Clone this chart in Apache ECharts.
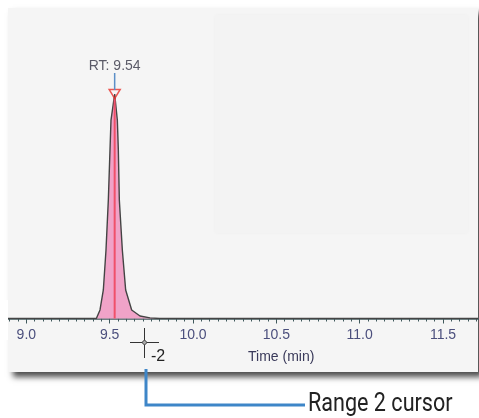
<!DOCTYPE html>
<html>
<head>
<meta charset="utf-8">
<script src="https://cdn.jsdelivr.net/npm/echarts@6/dist/echarts.min.js"></script>
<style>
html, body { margin: 0; padding: 0; background: #fff; }
#chart { width: 479px; height: 418px; }
</style>
</head>
<body>
<div id="chart"></div>
<script>
// chromatogram trace (time in min, relative intensity)
var peakTime = [8.89, 9.42, 9.442, 9.462, 9.478, 9.492, 9.502, 9.508, 9.53, 9.546, 9.552, 9.558, 9.576, 9.596, 9.632, 9.682, 9.742, 9.80, 11.71];
var peakIntensity = [0, 0, 3.8, 12.7, 30.5, 52.8, 75.1, 88.4, 100, 88.4, 75.1, 52.8, 30.5, 12.7, 3.8, 1.1, 0.3, 0, 0];
var rtTime = 9.53;
var rtIntensity = 100;
var rtLabel = 'RT: 9.54';
var axisMin = 8.5, axisMax = 12.0, axisStep = 0.5;
var viewMin = 8.89, viewMax = 11.71;

var chart = echarts.init(document.getElementById('chart'));

// panel spans x 8..478, visible time range mapped onto it
var pxPerMin = 470 / (viewMax - viewMin);
var gridLeft = 8 - (viewMin - axisMin) * pxPerMin;
var gridRight = 479 - (478 + (axisMax - viewMax) * pxPerMin);

var trace = peakTime.map(function (t, i) { return [t, peakIntensity[i]]; });

var option = {
    animation: false,
    backgroundColor: '#ffffff',
    grid: { left: gridLeft, right: gridRight, top: 8, bottom: 99.5, containLabel: false, outerBoundsMode: 'none' },
    xAxis: {
        type: 'value',
        min: axisMin,
        max: axisMax,
        interval: axisStep,
        splitLine: { show: false },
        axisLine: { lineStyle: { color: '#40595c', width: 1.5 } },
        axisTick: { length: 5, lineStyle: { color: '#40595c' } },
        minorTick: { show: true, splitNumber: 10, length: 3, lineStyle: { color: '#40595c' } },
        axisLabel: {
            margin: 10,
            color: '#4b4f7d',
            fontFamily: 'Liberation Sans, Arial',
            fontSize: 14,
            formatter: function (v) { return v.toFixed(1); }
        }
    },
    yAxis: { type: 'value', min: 0, max: 138.3, show: false },
    series: [
        {
            type: 'line',
            data: trace,
            symbol: 'none',
            lineStyle: { color: '#444', width: 1.4 },
            areaStyle: { color: '#f0a3c8', opacity: 1 },
            z: 3
        },
        {
            type: 'line',
            data: [[rtTime, 0], [rtTime, rtIntensity - 2]],
            symbol: 'none',
            lineStyle: { color: '#f0506a', width: 2 },
            z: 4
        },
        {
            type: 'scatter',
            data: [[rtTime, rtIntensity]],
            symbol: 'triangle',
            symbolRotate: 180,
            symbolSize: [11, 9],
            itemStyle: { color: 'rgba(0,0,0,0)', borderColor: '#e8302a', borderWidth: 1.5 },
            label: {
                show: true,
                position: 'top',
                distance: 16,
                formatter: rtLabel,
                color: '#333344',
                fontFamily: 'Liberation Sans, Arial',
                fontSize: 14
            },
            z: 5
        }
    ],
    graphic: [
        {
            type: 'rect', z: -10,
            shape: { x: 8, y: 8, width: 470, height: 364 },
            style: { fill: '#f5f5f5', shadowBlur: 6, shadowOffsetX: 5, shadowOffsetY: 5, shadowColor: 'rgba(0,0,0,0.7)' }
        },
        {
            type: 'rect', z: -9,
            shape: { x: 215, y: 15, width: 253, height: 218 },
            style: { fill: '#f3f3f3', shadowBlur: 3, shadowColor: 'rgba(0,0,0,0.03)' }
        },
        {
            type: 'rect', z: 100,
            shape: { x: 0, y: 300, width: 8, height: 40 },
            style: { fill: '#ffffff' }
        },
        {
            type: 'text', z: 100,
            style: { x: 248, y: 357, text: 'Time (min)', fill: '#3a3a5a', font: '14px "Liberation Sans", Arial', verticalAlign: 'middle' }
        },
        // cursor crosshair
        { type: 'line', z: 100, shape: { x1: 130, y1: 342.5, x2: 159, y2: 342.5 }, style: { stroke: '#333', lineWidth: 1 } },
        { type: 'line', z: 100, shape: { x1: 144.5, y1: 328, x2: 144.5, y2: 358 }, style: { stroke: '#333', lineWidth: 1 } },
        { type: 'circle', z: 101, shape: { cx: 144.5, cy: 342.5, r: 2 }, style: { fill: '#aaa', stroke: '#555', lineWidth: 1 } },
        {
            type: 'text', z: 100,
            style: { x: 151, y: 357, text: '-2', fill: '#222', font: '16px "Liberation Sans", Arial', verticalAlign: 'middle' }
        },
        // callout
        {
            type: 'polyline', z: 100,
            shape: { points: [[146, 369], [146, 405], [305, 405]] },
            style: { stroke: '#3e86c8', lineWidth: 3, fill: null }
        },
        {
            type: 'text', z: 100,
            x: 308, y: 404, scaleX: 0.83,
            style: { x: 0, y: 0, text: 'Range 2 cursor', fill: '#222', font: '26px Roboto, sans-serif', verticalAlign: 'middle' }
        }
    ]
};
chart.setOption(option);

// blue stem between the RT label and the apex marker
var apexPx = chart.convertToPixel({ gridIndex: 0 }, [rtTime, rtIntensity]);
chart.setOption({
    graphic: option.graphic.concat([{
        type: 'line', z: 100,
        shape: { x1: apexPx[0], y1: apexPx[1] - 21, x2: apexPx[0], y2: apexPx[1] - 4 },
        style: { stroke: '#5b8fc7', lineWidth: 1.5 }
    }])
});
</script>
</body>
</html>
